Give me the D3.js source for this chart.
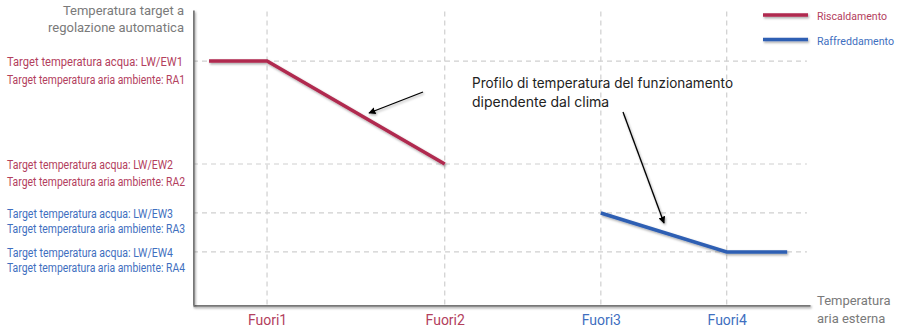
<!DOCTYPE html>
<html><head><meta charset="utf-8">
<script src="https://cdn.jsdelivr.net/npm/d3@7"></script>
<style>
html,body{margin:0;padding:0;background:#fff;}
svg{display:block;font-family:Roboto,"Noto Sans",sans-serif;}
</style></head>
<body><svg id="chart" width="901" height="329"></svg>
<script>
// ---- data ----
const outdoorCategories = ["Fuori1", "Fuori2", "Fuori3", "Fuori4"];
const outdoorTickValues = [12.0, 40.8, 66.1, 86.5];
const tickSeries = ["heat", "heat", "cool", "cool"];
const targetLevels = [82.7, 47.8, 31.2, 18.0];
const targetWaterLabels = ["Target temperatura acqua: LW/EW1", "Target temperatura acqua: LW/EW2", "Target temperatura acqua: LW/EW3", "Target temperatura acqua: LW/EW4"];
const targetAirLabels = ["Target temperatura aria ambiente: RA1", "Target temperatura aria ambiente: RA2", "Target temperatura aria ambiente: RA3", "Target temperatura aria ambiente: RA4"];
const levelSeries = ["heat", "heat", "cool", "cool"];
const heatingX = [2.6, 12.0, 40.8];
const heatingY = [82.7, 82.7, 47.8];
const coolingX = [66.1, 86.5, 96.3];
const coolingY = [31.2, 18.0, 18.0];
const seriesNames = ["Riscaldamento", "Raffreddamento"];
const yAxisTitle = ["Temperatura target a", "regolazione automatica"];
const xAxisTitle = ["Temperatura", "aria esterna"];
const annotationText = ["Profilo di temperatura del funzionamento", "dipendente dal clima"];

// ---- styles ----
const lineColor = {heat: "#b02a4f", cool: "#2f5fb3"};
const textColor = {heat: "#b3405d", cool: "#3f6fc0"};
const svg = d3.select("#chart");
const x = d3.scaleLinear().domain([0, 100]).range([193, 810]);
const y = d3.scaleLinear().domain([0, 100]).range([305, 10]);

const defs = svg.append("defs");
const f = defs.append("filter").attr("id", "sh").attr("filterUnits", "userSpaceOnUse")
  .attr("x", 0).attr("y", 0).attr("width", 901).attr("height", 329);
f.append("feDropShadow").attr("dx", 1).attr("dy", 1.5).attr("stdDeviation", 0.9).attr("flood-color", "#000").attr("flood-opacity", 0.35);
defs.append("marker").attr("id", "arr").attr("viewBox", "0 0 10 10").attr("refX", 9).attr("refY", 5)
  .attr("markerWidth", 7).attr("markerHeight", 7).attr("orient", "auto-start-reverse").attr("markerUnits", "userSpaceOnUse")
  .append("path").attr("d", "M0,0 L10,5 L0,10 Z").attr("fill", "#000");

// gridlines
const grid = svg.append("g").attr("stroke", "#cfcfcf").attr("stroke-width", 1.2).attr("stroke-dasharray", "5,4");
grid.selectAll("line.v").data(outdoorTickValues).join("line").attr("class", "v")
  .attr("x1", d => x(d)).attr("x2", d => x(d)).attr("y1", y(99.5)).attr("y2", y(0));
grid.selectAll("line.h").data(targetLevels).join("line").attr("class", "h")
  .attr("x1", x(0)).attr("x2", x(99.5)).attr("y1", d => y(d)).attr("y2", d => y(d));

// axes
const xAxis = d3.axisBottom(x).tickValues(outdoorTickValues).tickSize(0).tickPadding(10)
  .tickFormat((d, i) => outdoorCategories[i]);
const gx = svg.append("g").attr("transform", `translate(0,${y(0)})`).call(xAxis);
gx.select(".domain").attr("stroke", "#777").attr("stroke-width", 2.5).attr("filter", "url(#sh)");
gx.selectAll(".tick text").attr("font-size", 14).attr("font-family", "Roboto, sans-serif")
  .attr("fill", (d, i) => textColor[tickSeries[i]]);
const yAxis = d3.axisLeft(y).tickValues([]).tickSize(0);
const gy = svg.append("g").attr("transform", `translate(${x(0)},0)`).call(yAxis);
gy.select(".domain").attr("stroke", "#777").attr("stroke-width", 2.5).attr("filter", "url(#sh)");

// level labels
const lbl = svg.append("g").attr("font-size", 12);
targetLevels.forEach((lv, i) => {
  const c = textColor[levelSeries[i]];
  const base = y(lv);
  lbl.append("text").attr("x", 7).attr("y", base + 5).attr("fill", c)
    .attr("textLength", i === 0 ? 176 : 166).attr("lengthAdjust", "spacingAndGlyphs").text(targetWaterLabels[i]);
  lbl.append("text").attr("x", 7).attr("y", base + (i === 0 ? 23 : i === 1 ? 22 : 20.5)).attr("fill", c)
    .attr("textLength", 178).attr("lengthAdjust", "spacingAndGlyphs").text(targetAirLabels[i]);
});

// axis titles
svg.append("g").attr("fill", "#7a7a7a").attr("font-size", 13).attr("text-anchor", "end")
  .selectAll("text").data(yAxisTitle).join("text").attr("x", 184).attr("y", (d, i) => 15 + i * 17).text(d => d);
svg.append("g").attr("fill", "#7a7a7a").attr("font-size", 13)
  .selectAll("text").data(xAxisTitle).join("text").attr("x", 817).attr("y", (d, i) => 305 + i * 17.5).text(d => d);

// series lines
const line = d3.line().x(d => x(d[0])).y(d => y(d[1]));
svg.append("path").datum(d3.zip(heatingX, heatingY)).attr("d", line).attr("fill", "none")
  .attr("stroke", lineColor.heat).attr("stroke-width", 3.5).attr("filter", "url(#sh)");
svg.append("path").datum(d3.zip(coolingX, coolingY)).attr("d", line).attr("fill", "none")
  .attr("stroke", lineColor.cool).attr("stroke-width", 3.5).attr("filter", "url(#sh)");

// legend
const leg = svg.append("g");
seriesNames.forEach((n, i) => {
  const k = i === 0 ? "heat" : "cool";
  leg.append("line").attr("x1", 763).attr("x2", 808).attr("y1", 15 + i * 24.5).attr("y2", 15 + i * 24.5)
    .attr("stroke", lineColor[k]).attr("stroke-width", 3.5).attr("filter", "url(#sh)");
  leg.append("text").attr("x", 817).attr("y", 20 + i * 24.5).attr("font-size", 11.5).attr("fill", textColor[k])
    .attr("textLength", i === 0 ? 70 : 77).attr("lengthAdjust", "spacingAndGlyphs").text(n);
});

// annotation
svg.append("g").attr("fill", "#222").attr("font-size", 14).attr("font-family", "Inter, Roboto, sans-serif")
  .selectAll("text").data(annotationText).join("text").attr("x", 472).attr("y", (d, i) => 88 + i * 19)
  .attr("textLength", (d, i) => i === 0 ? 261 : null).attr("lengthAdjust", "spacingAndGlyphs").text(d => d);
const arrows = svg.append("g").attr("stroke", "#000").attr("stroke-width", 1.3).attr("filter", "url(#sh)");
arrows.append("line").attr("x1", 423).attr("y1", 92).attr("x2", 369).attr("y2", 113).attr("marker-end", "url(#arr)");
arrows.append("line").attr("x1", 623).attr("y1", 112).attr("x2", 664).attr("y2", 223).attr("marker-end", "url(#arr)");
</script></body></html>
